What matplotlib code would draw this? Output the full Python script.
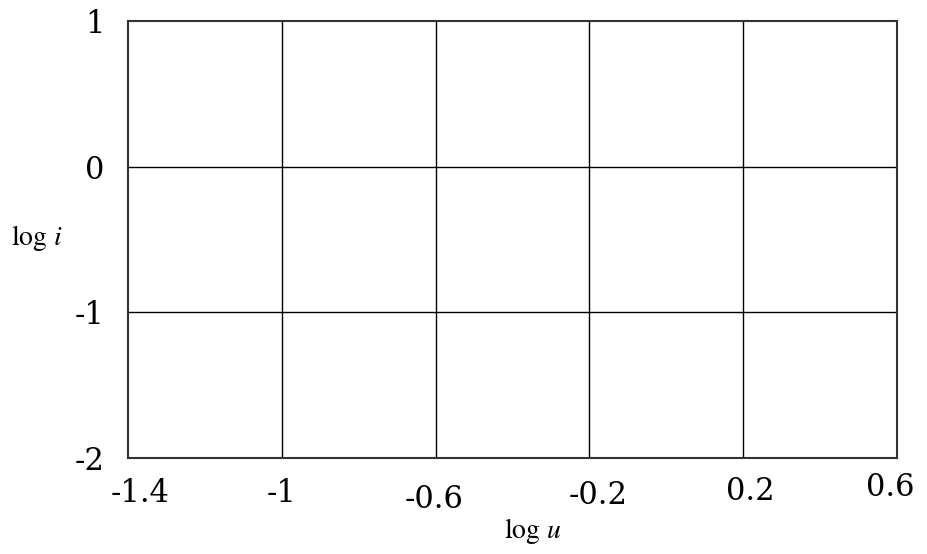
import matplotlib
matplotlib.use('Agg')
import matplotlib.pyplot as plt

# axis grid values
x_ticks = [-1.4, -1.0, -0.6, -0.2, 0.2, 0.6]
x_labels = ['-1.4', '-1', '-0.6', '-0.2', '0.2', '0.6']
y_ticks = [-2, -1, 0, 1]
y_labels = ['-2', '-1', '0', '1']

# staggered offsets of the x tick labels (pixels)
x_label_offsets = [(12, -35), (0, -35), (-2, -41), (9, -38), (7, -34), (-7, -30)]

plt.rcParams['mathtext.fontset'] = 'stix'

fig = plt.figure(figsize=(9.28, 5.54), dpi=100)
ax = fig.add_axes([128 / 928, 1 - 458 / 554, 769 / 928, 437 / 554])

ax.set_xlim(x_ticks[0], x_ticks[-1])
ax.set_ylim(y_ticks[0], y_ticks[-1])

for x in x_ticks[1:-1]:
    ax.axvline(x, color='black', lw=1.0)
for y in y_ticks[1:-1]:
    ax.axhline(y, color='black', lw=1.0)

for s in ax.spines.values():
    s.set_color('#333333')
    s.set_linewidth(1.5)

ax.set_xticks(x_ticks)
ax.set_xticklabels([])
ax.set_yticks(y_ticks)
ax.set_yticklabels(y_labels, fontfamily='DejaVu Serif', fontsize=22)
ax.tick_params(axis='both', length=0)
ax.tick_params(axis='y', pad=17)

for x, lab, (dx, dy) in zip(x_ticks, x_labels, x_label_offsets):
    ax.annotate(lab, xy=(x, 0), xycoords=('data', 'axes fraction'),
                xytext=(dx, dy), textcoords='offset pixels',
                ha='center', va='center', fontfamily='DejaVu Serif', fontsize=22)

fig.text(37 / 928, 1 - 238 / 554, r'$\log\,i$', ha='center', va='center', fontsize=20)
fig.text(533 / 928, 1 - 531 / 554, r'$\log\,u$', ha='center', va='center', fontsize=20)

fig.savefig('out.png', dpi=100)
